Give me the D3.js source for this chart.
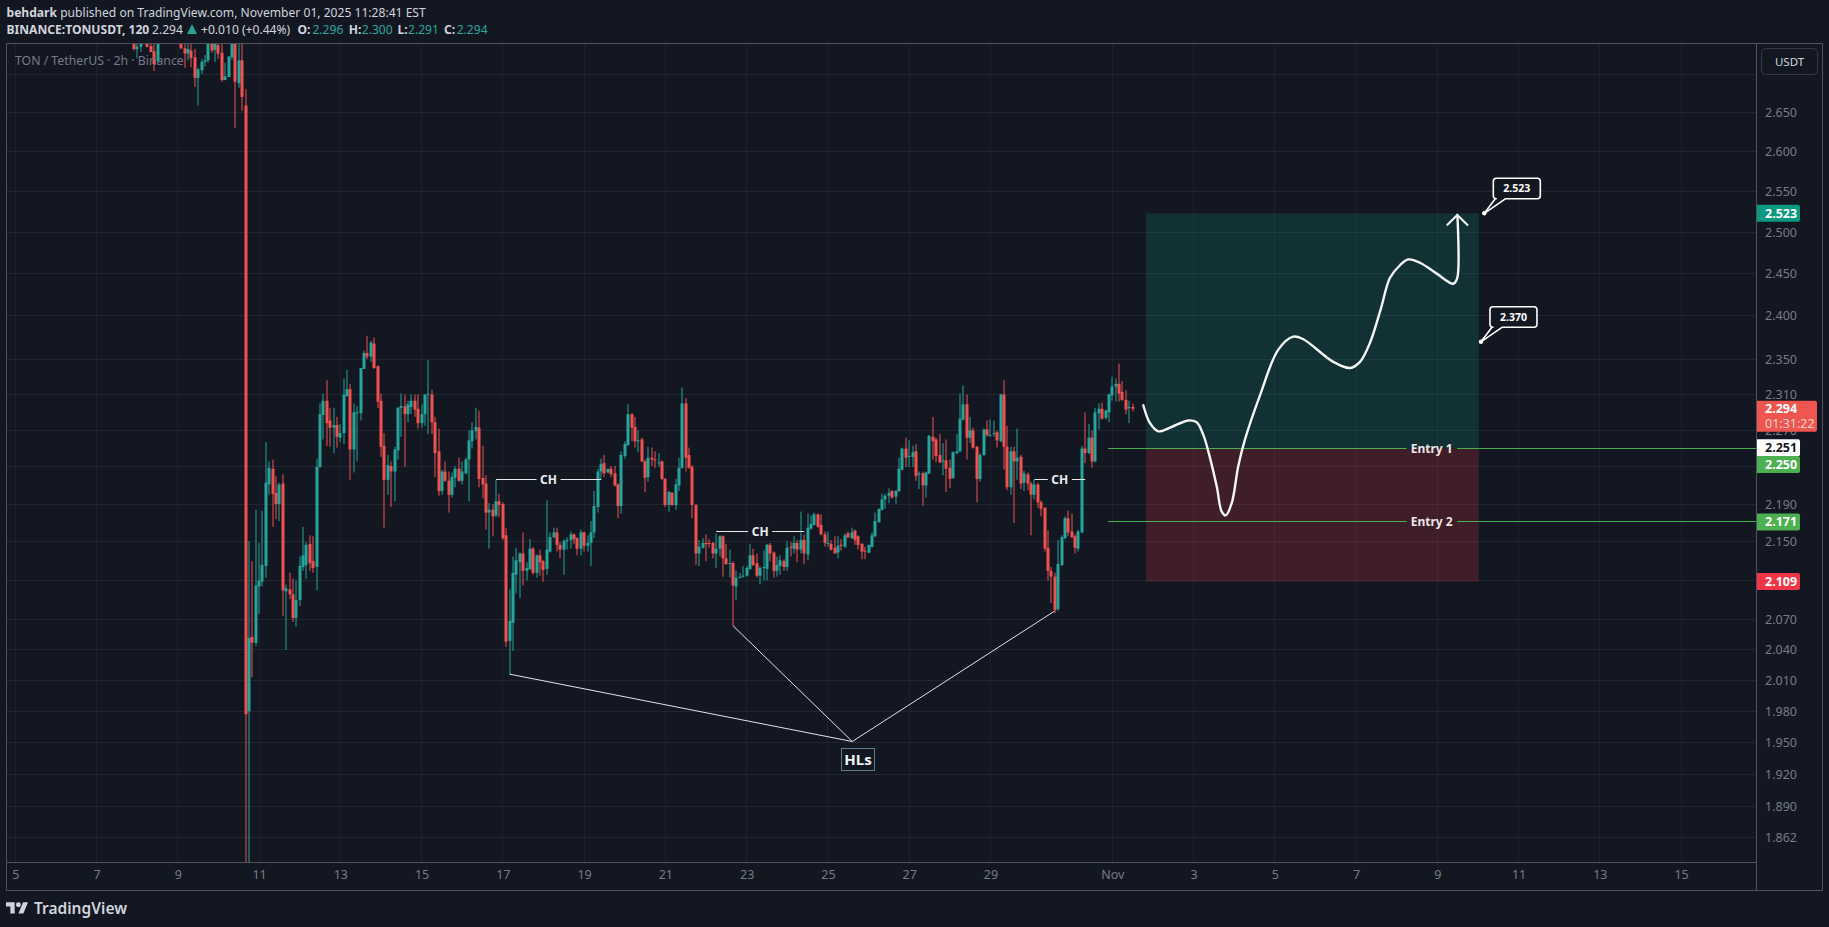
<!DOCTYPE html>
<html>
<head>
<meta charset="utf-8">
<title>TONUSDT 2h</title>
<script src="https://cdn.jsdelivr.net/npm/d3@7"></script>
<style>
html, body { margin: 0; padding: 0; background: #131722; overflow: hidden; }
text { font-family: "Noto Sans", sans-serif; }
</style>
</head>
<body>
<div id="the_chart"></div>
<script>
// 2h candles, null = bar is above the top of the pane
var firstBar = "2025-10-07T22:00:00Z";
var opens = [
2.75,2.733,2.736,null,2.75,2.737,2.73,2.717,null,null,
null,null,null,null,2.75,2.734,2.727,2.731,2.722,2.695,
2.705,2.716,2.718,2.75,2.732,2.738,2.728,2.692,2.696,2.722,
2.76,2.688,2.718,2.659,1.98,2.053,2.047,2.104,2.109,2.125,
2.211,2.228,2.202,2.19,2.212,2.099,2.101,2.096,2.072,2.09,
2.124,2.126,2.148,2.13,2.124,2.23,2.287,2.303,2.281,2.273,
2.276,2.262,2.267,2.308,2.316,2.249,2.289,2.289,2.339,2.357,
2.353,2.368,2.342,2.303,2.253,2.216,2.231,2.225,2.248,2.295,
2.297,2.288,2.296,2.303,2.294,2.278,2.288,2.31,2.31,2.279,
2.247,2.204,2.225,2.215,2.2,2.218,2.228,2.215,2.223,2.238,
2.258,2.269,2.273,2.218,2.212,2.181,2.184,2.178,2.193,2.19,
2.157,2.049,2.067,2.116,2.129,2.138,2.12,2.122,2.143,2.118,
2.136,2.13,2.122,2.14,2.155,2.16,2.147,2.142,2.151,2.152,
2.158,2.154,2.143,2.16,2.146,2.149,2.16,2.187,2.225,2.234,
2.224,2.228,2.223,2.211,2.188,2.242,2.254,2.288,2.274,2.258,
2.26,2.236,2.219,2.24,2.238,2.234,2.236,2.217,2.189,2.202,
2.189,2.21,2.229,2.3,2.243,2.23,2.189,2.138,2.144,2.149,
2.149,2.149,2.138,2.143,2.156,2.133,2.127,2.128,2.104,2.113,
2.114,2.115,2.122,2.136,2.128,2.115,2.123,2.122,2.147,2.139,
2.12,2.125,2.13,2.124,2.145,2.143,2.149,2.142,2.152,2.137,
2.164,2.168,2.179,2.168,2.158,2.148,2.148,2.144,2.139,2.147,
2.145,2.159,2.154,2.162,2.156,2.148,2.141,2.139,2.145,2.156,
2.171,2.184,2.195,2.199,2.204,2.198,2.204,2.227,2.25,2.241,
2.241,2.247,2.222,2.223,2.21,2.223,2.263,2.26,2.243,2.236,
2.237,2.229,2.218,2.245,2.247,2.282,2.299,2.262,2.27,2.252,
2.217,2.243,2.271,2.264,2.266,2.268,2.258,2.31,2.252,2.208,
2.247,2.236,2.241,2.213,2.222,2.212,2.2,2.211,2.192,2.186,
2.144,2.12,2.114,2.081,2.126,2.154,2.175,2.161,2.156,2.143,
2.16,2.25,2.245,2.262,2.236,2.289,2.294,2.284,2.29,2.309,
2.319,2.322,2.313,2.304,2.295,2.296];
var highs = [
2.76,2.75,2.76,null,2.76,2.75,2.745,2.76,null,null,
null,null,null,null,2.76,2.74,2.75,2.75,2.733,2.708,
2.72,2.725,2.75,2.76,2.76,2.75,2.75,2.715,2.724,2.75,
2.77,2.75,2.74,2.68,2.151,2.13,2.184,2.149,2.183,2.257,
2.236,2.238,2.22,2.213,2.222,2.106,2.118,2.112,2.11,2.135,
2.166,2.15,2.157,2.156,2.239,2.3,2.311,2.326,2.295,2.295,
2.285,2.277,2.328,2.338,2.322,2.3,2.297,2.34,2.36,2.377,
2.371,2.375,2.343,2.311,2.267,2.243,2.236,2.252,2.296,2.311,
2.31,2.303,2.31,2.31,2.31,2.299,2.31,2.349,2.315,2.285,
2.272,2.227,2.236,2.225,2.224,2.231,2.24,2.236,2.24,2.27,
2.279,2.295,2.292,2.253,2.221,2.191,2.19,2.216,2.201,2.192,
2.165,2.101,2.135,2.144,2.139,2.16,2.129,2.153,2.145,2.137,
2.142,2.131,2.194,2.16,2.165,2.165,2.15,2.153,2.155,2.161,
2.159,2.155,2.163,2.161,2.157,2.172,2.204,2.228,2.239,2.243,
2.228,2.231,2.231,2.212,2.247,2.258,2.299,2.289,2.285,2.27,
2.262,2.238,2.252,2.251,2.247,2.245,2.237,2.218,2.204,2.203,
2.217,2.24,2.318,2.306,2.251,2.232,2.19,2.152,2.154,2.158,
2.153,2.15,2.159,2.157,2.157,2.148,2.142,2.13,2.12,2.118,
2.125,2.125,2.148,2.143,2.138,2.125,2.141,2.148,2.149,2.14,
2.135,2.136,2.132,2.151,2.15,2.156,2.152,2.182,2.158,2.18,
2.178,2.181,2.18,2.179,2.161,2.161,2.152,2.156,2.156,2.153,
2.159,2.161,2.165,2.163,2.157,2.149,2.145,2.147,2.16,2.181,
2.185,2.201,2.201,2.207,2.205,2.205,2.24,2.251,2.262,2.259,
2.253,2.255,2.225,2.225,2.225,2.265,2.285,2.262,2.266,2.256,
2.26,2.238,2.247,2.266,2.311,2.32,2.31,2.285,2.273,2.253,
2.245,2.272,2.281,2.282,2.281,2.27,2.311,2.326,2.275,2.252,
2.252,2.272,2.243,2.226,2.224,2.214,2.216,2.213,2.194,2.187,
2.162,2.124,2.118,2.152,2.157,2.177,2.183,2.18,2.158,2.163,
2.253,2.29,2.277,2.27,2.295,2.3,2.301,2.293,2.311,2.33,
2.328,2.345,2.325,2.315,2.303,2.3];
var lows = [
2.731,2.721,2.729,null,2.735,2.729,2.704,2.715,null,null,
null,null,null,null,2.733,2.708,2.718,2.709,2.683,2.659,
2.7,2.71,2.715,2.728,2.716,2.72,2.69,2.692,2.696,2.719,
2.63,2.682,2.652,1.6,1.7,2.013,2.044,2.076,2.104,2.113,
2.2,2.166,2.174,2.172,2.074,2.04,2.091,2.068,2.063,2.084,
2.12,2.112,2.12,2.118,2.1,2.229,2.26,2.253,2.252,2.245,
2.251,2.257,2.255,2.308,2.216,2.224,2.236,2.281,2.339,2.35,
2.347,2.339,2.295,2.241,2.165,2.2,2.187,2.193,2.238,2.263,
2.23,2.279,2.288,2.285,2.272,2.273,2.275,2.266,2.266,2.219,
2.199,2.2,2.214,2.181,2.197,2.208,2.214,2.211,2.222,2.193,
2.25,2.26,2.208,2.196,2.163,2.143,2.156,2.176,2.176,2.152,
2.043,2.016,2.039,2.097,2.092,2.105,2.11,2.121,2.116,2.113,
2.115,2.109,2.116,2.139,2.154,2.14,2.133,2.116,2.142,2.143,
2.148,2.136,2.136,2.14,2.14,2.125,2.154,2.181,2.216,2.219,
2.223,2.219,2.209,2.175,2.18,2.239,2.253,2.258,2.251,2.246,
2.235,2.203,2.214,2.231,2.229,2.23,2.216,2.187,2.182,2.188,
2.184,2.204,2.228,2.225,2.228,2.175,2.126,2.125,2.143,2.13,
2.144,2.133,2.123,2.135,2.114,2.126,2.113,2.064,2.09,2.112,
2.113,2.114,2.121,2.125,2.113,2.106,2.11,2.11,2.13,2.113,
2.114,2.116,2.12,2.12,2.135,2.138,2.129,2.138,2.127,2.131,
2.163,2.167,2.165,2.157,2.145,2.145,2.141,2.138,2.133,2.141,
2.144,2.154,2.153,2.147,2.142,2.132,2.132,2.138,2.144,2.155,
2.17,2.183,2.185,2.191,2.196,2.19,2.203,2.226,2.23,2.23,
2.23,2.215,2.206,2.188,2.197,2.222,2.238,2.235,2.234,2.221,
2.203,2.207,2.217,2.244,2.246,2.281,2.238,2.256,2.25,2.192,
2.214,2.242,2.263,2.263,2.263,2.251,2.257,2.227,2.205,2.2,
2.17,2.216,2.206,2.204,2.205,2.157,2.195,2.186,2.177,2.14,
2.11,2.087,2.077,2.079,2.125,2.153,2.156,2.154,2.138,2.14,
2.159,2.234,2.244,2.229,2.235,2.271,2.282,2.282,2.279,2.303,
2.302,2.302,2.303,2.288,2.278,2.291];
var closes = [
2.733,2.736,2.75,null,2.736,2.729,2.713,2.75,null,null,
null,null,null,null,2.734,2.727,2.733,2.721,2.695,2.706,
2.716,2.718,2.745,2.731,2.75,2.727,2.692,2.697,2.723,2.75,
2.69,2.718,2.67,1.977,2.052,2.047,2.105,2.11,2.126,2.213,
2.229,2.201,2.19,2.211,2.1,2.102,2.096,2.072,2.09,2.125,
2.136,2.147,2.128,2.123,2.23,2.288,2.303,2.278,2.273,2.276,
2.263,2.267,2.31,2.316,2.249,2.29,2.29,2.34,2.357,2.353,
2.369,2.34,2.302,2.252,2.216,2.232,2.225,2.249,2.295,2.297,
2.288,2.299,2.303,2.293,2.278,2.288,2.31,2.311,2.279,2.245,
2.204,2.225,2.215,2.2,2.219,2.228,2.215,2.225,2.238,2.259,
2.27,2.274,2.217,2.211,2.181,2.184,2.177,2.193,2.189,2.154,
2.048,2.069,2.118,2.131,2.138,2.12,2.123,2.143,2.118,2.136,
2.129,2.121,2.142,2.155,2.16,2.147,2.142,2.151,2.152,2.158,
2.153,2.143,2.16,2.146,2.149,2.16,2.188,2.225,2.233,2.223,
2.228,2.222,2.21,2.188,2.243,2.255,2.288,2.273,2.258,2.259,
2.236,2.218,2.24,2.238,2.237,2.235,2.217,2.189,2.203,2.189,
2.211,2.229,2.3,2.24,2.229,2.189,2.138,2.145,2.149,2.148,
2.148,2.138,2.143,2.156,2.133,2.127,2.128,2.105,2.113,2.114,
2.115,2.123,2.136,2.126,2.115,2.123,2.124,2.147,2.138,2.12,
2.126,2.131,2.124,2.144,2.144,2.149,2.142,2.152,2.138,2.165,
2.169,2.179,2.166,2.158,2.149,2.149,2.142,2.138,2.146,2.146,
2.157,2.155,2.16,2.152,2.147,2.14,2.14,2.147,2.157,2.172,
2.185,2.195,2.199,2.202,2.197,2.204,2.228,2.25,2.24,2.242,
2.246,2.22,2.223,2.21,2.224,2.264,2.258,2.242,2.235,2.237,
2.228,2.217,2.246,2.247,2.283,2.299,2.262,2.27,2.251,2.217,
2.243,2.271,2.265,2.265,2.267,2.259,2.31,2.252,2.208,2.247,
2.236,2.24,2.212,2.223,2.212,2.2,2.211,2.192,2.185,2.143,
2.12,2.114,2.08,2.127,2.155,2.175,2.16,2.155,2.144,2.161,
2.25,2.245,2.262,2.236,2.29,2.294,2.283,2.292,2.31,2.319,
2.322,2.311,2.304,2.293,2.296,2.294];

// grid has all of them, the axis text skips the ones that sit under a tag
var priceTicks = [2.7,2.65,2.6,2.55,2.5,2.45,2.4,2.35,2.31,2.27,2.23,2.19,2.15,2.11,2.07,2.04,2.01,1.98,1.95,1.92,1.89,1.862];
var priceTickLabels = [2.65,2.6,2.55,2.5,2.45,2.4,2.35,2.31,2.27,2.19,2.15,2.07,2.04,2.01,1.98,1.95,1.92,1.89,1.862];
var timeTickDates = ["2025-10-05","2025-10-07","2025-10-09","2025-10-11","2025-10-13","2025-10-15","2025-10-17","2025-10-19","2025-10-21","2025-10-23","2025-10-25","2025-10-27","2025-10-29","2025-11-01","2025-11-03","2025-11-05","2025-11-07","2025-11-09","2025-11-11","2025-11-13","2025-11-15"];
var timeTickLabels = ["5","7","9","11","13","15","17","19","21","23","25","27","29","Nov","3","5","7","9","11","13","15"];

// trade drawing, all prices
var targetPrice = 2.523, entry1 = 2.25, entry1Top = 2.251, entry2 = 2.171, stopPrice = 2.109, lastPrice = 2.294, midTarget = 2.37;

// hand drawn path, days after Nov 1 / price
var sketchDays = [0.763,0.928,1.132,1.42,1.87,2.077,2.24,2.363,2.57,2.693,2.791,2.939,3.101,3.266,3.635,4.086,4.455,4.701,5.439,5.85,6.096,6.343,6.613,6.835,7.081,7.285,7.573,7.984,8.393,8.491,8.491];
var sketchPrices = [2.298,2.278,2.269,2.273,2.281,2.279,2.265,2.247,2.209,2.182,2.178,2.191,2.231,2.26,2.309,2.361,2.376,2.373,2.347,2.34,2.347,2.369,2.409,2.445,2.46,2.467,2.463,2.45,2.438,2.445,2.521];
var arrowDays = [8.23,8.491,8.755];
var arrowPrices = [2.508,2.521,2.508];

// CH levels: bar number from / to, price
var chLabels = ["CH","CH","CH"];
var chFrom = [107,172,266];
var chTo = [138,198,281];
var chPrice = [2.216,2.161,2.216];

// HLs swing lows: bar numbers and prices
var hlBars = [111,177,272];
var hlPrices = [2.016,2.064,2.079];
var hlApexBar = 212.2, hlApexPrice = 1.951;

var w = 1829, h = 927;
var paneLeft = 6.5, paneTop = 43.5, paneRight = 1756.5, paneBottom = 862.5, outerBottom = 890.5, outerRight = 1822.5;

var green = "#26a69a", red = "#ef5350", grey = "#787b86", borderColor = "#50535e";

var svg = d3.select("#the_chart").append("svg")
	.attr("width", w)
	.attr("height", h)
	.style("display", "block");

var dayMs = 86400000;
var nov1 = Date.UTC(2025, 10, 1);
var xscale = d3.scaleUtc()
	.domain([new Date(Date.UTC(2025, 9, 5)), new Date(nov1)])
	.range([15.3, 1112.3]);
var yscale = d3.scaleLog()
	.domain([2.7, 2.01])
	.range([74, 680.3]);

var barX = function (i) { return xscale(new Date(Date.parse(firstBar) + i * 2 * 3600000)); };
var dayX = function (d) { return xscale(new Date(nov1 + d * dayMs)); };
var crisp = function (v) { return Math.floor(v) + 0.5; };

var candles = opens.map(function (o, i) {
	return { i: i, open: o, high: highs[i], low: lows[i], close: closes[i] };
}).filter(function (d) { return d.open != null; });

svg.append("defs").append("clipPath").attr("id", "pane")
	.append("rect")
	.attr("x", paneLeft).attr("y", paneTop)
	.attr("width", paneRight - paneLeft).attr("height", paneBottom - paneTop);

// grid
var timeDates = timeTickDates.map(function (s) { return new Date(s + "T00:00:00Z"); });
var grid = svg.append("g").attr("clip-path", "url(#pane)");
grid.selectAll(".vgrid").data(timeDates).enter().append("line")
	.attr("class", "vgrid")
	.attr("x1", function (d) { return crisp(xscale(d)); })
	.attr("x2", function (d) { return crisp(xscale(d)); })
	.attr("y1", paneTop).attr("y2", paneBottom)
	.attr("stroke", "#1c212b");
grid.selectAll(".hgrid").data(priceTicks).enter().append("line")
	.attr("class", "hgrid")
	.attr("x1", paneLeft).attr("x2", paneRight)
	.attr("y1", function (d) { return crisp(yscale(d)); })
	.attr("y2", function (d) { return crisp(yscale(d)); })
	.attr("stroke", "#212631");

// long / short zones
var zoneX1 = dayX(0.83), zoneX2 = dayX(9.02);
svg.append("rect")
	.attr("x", zoneX1).attr("width", zoneX2 - zoneX1)
	.attr("y", yscale(targetPrice)).attr("height", yscale(entry1) - yscale(targetPrice))
	.attr("fill", "rgba(8,153,129,0.2)");
svg.append("rect")
	.attr("x", zoneX1).attr("width", zoneX2 - zoneX1)
	.attr("y", yscale(entry1)).attr("height", yscale(stopPrice) - yscale(entry1))
	.attr("fill", "rgba(242,54,69,0.2)");

// candles
var bars = svg.append("g").attr("clip-path", "url(#pane)");
var candleColor = function (d) { return d.close < d.open ? red : green; };
bars.selectAll(".wick").data(candles).enter().append("rect")
	.attr("class", "wick")
	.attr("x", function (d) { return Math.round(barX(d.i)) - 0.5; })
	.attr("width", 1)
	.attr("y", function (d) { return yscale(d.high); })
	.attr("height", function (d) { return yscale(d.low) - yscale(d.high); })
	.attr("fill", candleColor);
bars.selectAll(".body").data(candles).enter().append("rect")
	.attr("class", "body")
	.attr("x", function (d) { return Math.round(barX(d.i)) - 1.5; })
	.attr("width", 3)
	.attr("y", function (d) { return yscale(Math.max(d.open, d.close)); })
	.attr("height", function (d) { return Math.max(1, Math.abs(yscale(d.open) - yscale(d.close))); })
	.attr("fill", candleColor);

// pane title
svg.append("text").attr("x", 15).attr("y", 65)
	.attr("font-size", 12.25).attr("fill", grey)
	.text("TON / TetherUS · 2h · Binance");

// entry lines
var entries = [
	{ label: "Entry 1", price: entry1 },
	{ label: "Entry 2", price: entry2 }
];
var entryStart = dayX(-0.1), labelX = dayX(7.86);
entries.forEach(function (e) {
	var yy = crisp(yscale(e.price));
	svg.append("line").attr("x1", entryStart).attr("x2", labelX - 25)
		.attr("y1", yy).attr("y2", yy).attr("stroke", "#4caf50");
	svg.append("line").attr("x1", labelX + 25.5).attr("x2", paneRight)
		.attr("y1", yy).attr("y2", yy).attr("stroke", "#4caf50");
	svg.append("text").attr("x", labelX).attr("y", yy + 4.5)
		.attr("text-anchor", "middle").attr("font-size", 12).attr("font-weight", 700)
		.attr("fill", "#eee4e6")
		.text(e.label);
});

// CH levels
chLabels.forEach(function (t, k) {
	var x1 = barX(chFrom[k]), x2 = barX(chTo[k]), mid = (x1 + x2) / 2, yy = crisp(yscale(chPrice[k]));
	svg.append("line").attr("x1", x1).attr("x2", mid - 12)
		.attr("y1", yy).attr("y2", yy).attr("stroke", "#e8e8e8");
	svg.append("line").attr("x1", mid + 12).attr("x2", x2)
		.attr("y1", yy).attr("y2", yy).attr("stroke", "#e8e8e8");
	svg.append("text").attr("x", mid).attr("y", yy + 4.5)
		.attr("text-anchor", "middle").attr("font-size", 12).attr("font-weight", 700)
		.attr("fill", "#ececec")
		.text(t);
});

// HLs lines
hlBars.forEach(function (b, k) {
	svg.append("line")
		.attr("x1", barX(b)).attr("y1", yscale(hlPrices[k]))
		.attr("x2", barX(hlApexBar)).attr("y2", yscale(hlApexPrice))
		.attr("stroke", "#e0e3eb").attr("stroke-width", 1);
});
var hlBoxX = barX(hlApexBar) - 11, hlBoxY = yscale(hlApexPrice) + 6.5;
svg.append("rect")
	.attr("x", crisp(hlBoxX)).attr("y", crisp(hlBoxY))
	.attr("width", 33).attr("height", 22)
	.attr("fill", "#131722").attr("stroke", "#5d7d92");
svg.append("text").attr("x", crisp(hlBoxX) + 16.5).attr("y", crisp(hlBoxY) + 16)
	.attr("text-anchor", "middle").attr("font-size", 15).attr("font-weight", 700)
	.attr("fill", "#f0f3fa").text("HLs");

// sketch path + arrow
var sketchLine = d3.line()
	.x(function (d) { return dayX(d[0]); })
	.y(function (d) { return yscale(d[1]); })
	.curve(d3.curveCatmullRom.alpha(0.5));
svg.append("path")
	.datum(d3.zip(sketchDays, sketchPrices))
	.attr("d", sketchLine)
	.attr("fill", "none").attr("stroke", "#f5f5f5").attr("stroke-width", 2.4).attr("stroke-linecap", "round");
svg.append("path")
	.datum(d3.zip(arrowDays, arrowPrices))
	.attr("d", d3.line().x(function (d) { return dayX(d[0]); }).y(function (d) { return yscale(d[1]); }))
	.attr("fill", "none").attr("stroke", "#f5f5f5").attr("stroke-width", 2);

// callouts
var callouts = [
	{ text: "2.523", day: 9.156, price: targetPrice },
	{ text: "2.370", day: 9.074, price: midTarget }
];
callouts.forEach(function (c) {
	var tx = dayX(c.day), ty = yscale(c.price);
	var l = tx + 9, r = l + 47, t = ty - 35, b = ty - 14.5, q = 3;
	var p = d3.path();
	p.moveTo(tx, ty);
	p.lineTo(l + 2, b);
	p.lineTo(l + q, b);
	p.quadraticCurveTo(l, b, l, b - q);
	p.lineTo(l, t + q);
	p.quadraticCurveTo(l, t, l + q, t);
	p.lineTo(r - q, t);
	p.quadraticCurveTo(r, t, r, t + q);
	p.lineTo(r, b - q);
	p.quadraticCurveTo(r, b, r - q, b);
	p.lineTo(l + 12, b);
	p.closePath();
	svg.append("path").attr("d", p.toString())
		.attr("fill", "#131722").attr("stroke", "#ffffff").attr("stroke-width", 1.6).attr("stroke-linejoin", "round");
	svg.append("circle").attr("cx", tx).attr("cy", ty).attr("r", 2.2).attr("fill", "#ffffff");
	svg.append("text").attr("x", (l + r) / 2).attr("y", (t + b) / 2 + 3.5)
		.attr("text-anchor", "middle").attr("font-size", 10.5).attr("font-weight", 700)
		.attr("fill", "#ffffff").text(c.text);
});

// borders
[[paneLeft, paneTop, outerRight, paneTop], [paneLeft, paneTop, paneLeft, outerBottom],
 [paneRight, paneTop, paneRight, outerBottom], [paneLeft, paneBottom, paneRight, paneBottom],
 [paneLeft, outerBottom, outerRight, outerBottom], [outerRight, paneTop, outerRight, outerBottom]].forEach(function (b) {
	svg.append("line").attr("x1", b[0]).attr("y1", b[1]).attr("x2", b[2]).attr("y2", b[3])
		.attr("stroke", borderColor);
});

// axes
var yaxis = d3.axisRight(yscale)
	.tickValues(priceTickLabels)
	.tickSize(0)
	.tickPadding(0)
	.tickFormat(d3.format(".3f"));
var yg = svg.append("g")
	.attr("transform", "translate(1765,0)")
	.call(yaxis);
var xaxis = d3.axisBottom(xscale)
	.tickValues(timeDates)
	.tickSize(0)
	.tickPadding(0)
	.tickFormat(function (d, i) { return timeTickLabels[i]; });
var xg = svg.append("g")
	.attr("transform", "translate(0,870)")
	.call(xaxis);
[yg, xg].forEach(function (g) {
	g.select(".domain").remove();
	g.selectAll("text")
		.attr("fill", grey)
		.attr("font-size", 12.5)
		.attr("font-family", "'Noto Sans', sans-serif");
});
xg.selectAll(".tick text").attr("dy", "0.71em");

// price labels on the axis
var priceLabels = [
	{ text: "2.523", price: targetPrice, fill: "#089981", color: "#ffffff", dy: 0 },
	{ text: "2.251", price: entry1Top, fill: "#ffffff", color: "#131722", dy: 0 },
	{ text: "2.250", price: entry1, fill: "#4caf50", color: "#ffffff", dy: 16 },
	{ text: "2.171", price: entry2, fill: "#4caf50", color: "#ffffff", dy: 0 },
	{ text: "2.109", price: stopPrice, fill: "#f23645", color: "#ffffff", dy: 0 }
];
var tagPath = function (x, y, wd, ht) {
	return "M" + x + "," + y + "h" + (wd - 2) + "q2,0 2,2v" + (ht - 4) + "q0,2 -2,2h" + (2 - wd) + "z";
};
// countdown label first, the others sit on top of it
var ly = yscale(lastPrice);
svg.append("path").attr("d", tagPath(1757, ly - 8, 60, 31)).attr("fill", "#f05650");
svg.append("text").attr("x", 1765).attr("y", ly + 4.5)
	.attr("font-size", 12.5).attr("font-weight", 700).attr("fill", "#ffffff").text("2.294");
svg.append("text").attr("x", 1765).attr("y", ly + 19)
	.attr("font-size", 12.5).attr("fill", "#fbd0ce").text("01:31:22");
priceLabels.forEach(function (l) {
	var yy = yscale(l.price) + l.dy;
	svg.append("path").attr("d", tagPath(1757, yy - 8.5, 43, 17)).attr("fill", l.fill);
	svg.append("text").attr("x", 1765).attr("y", yy + 4.5)
		.attr("font-size", 12.5).attr("font-weight", 700).attr("fill", l.color).text(l.text);
});

// currency button
svg.append("rect").attr("x", 1761.5).attr("y", 48.5).attr("width", 56).attr("height", 26).attr("rx", 4)
	.attr("fill", "#131722").attr("stroke", "#363a45");
svg.append("text").attr("x", 1789.5).attr("y", 65.5).attr("text-anchor", "middle")
	.attr("font-size", 11.5).attr("fill", "#d1d4dc").text("USDT");

// header text
var head = svg.append("g");
head.append("text").attr("x", 6.5).attr("y", 17).attr("font-size", 12.1).attr("fill", "#d1d4dc")
	.html('<tspan font-weight="700">behdark</tspan> published on TradingView.com, November 01, 2025 11:28:41 EST');
var headBits = [
	["BINANCE:TONUSDT, 120", 6.5, "#d1d4dc", 700],
	["2.294", 152, "#d1d4dc", 400],
	["+0.010 (+0.44%)", 201, "#d1d4dc", 400],
	["O:", 297.4, "#d1d4dc", 700],
	["2.296", 312.4, green, 400],
	["H:", 348.8, "#d1d4dc", 700],
	["2.300", 361.8, green, 400],
	["L:", 397.4, "#d1d4dc", 700],
	["2.291", 408, green, 400],
	["C:", 444, "#d1d4dc", 700],
	["2.294", 456.7, green, 400]
];
head.selectAll(".hb").data(headBits).enter().append("text")
	.attr("class", "hb")
	.attr("x", function (d) { return d[1]; })
	.attr("y", 34)
	.attr("font-size", 12.1)
	.attr("fill", function (d) { return d[2]; })
	.attr("font-weight", function (d) { return d[3]; })
	.text(function (d) { return d[0]; });
head.append("path").attr("d", "M187,34h10l-5,-10z").attr("fill", green);

// logo
svg.append("path")
	.attr("transform", "translate(6,899.8) scale(0.62)")
	.attr("d", "M14 22H7V11H0V4h14v18zM28 22h-8l7.5-18h8L28 22z")
	.attr("fill", "#d1d4dc");
svg.append("circle").attr("cx", 6 + 20 * 0.62).attr("cy", 899.8 + 8 * 0.62).attr("r", 4 * 0.62).attr("fill", "#d1d4dc");
svg.append("text").attr("x", 34).attr("y", 914)
	.attr("font-size", 15.5).attr("font-weight", 600)
	.attr("font-family", "Inter, sans-serif")
	.attr("fill", "#d1d4dc").text("TradingView");
</script>
</body>
</html>
